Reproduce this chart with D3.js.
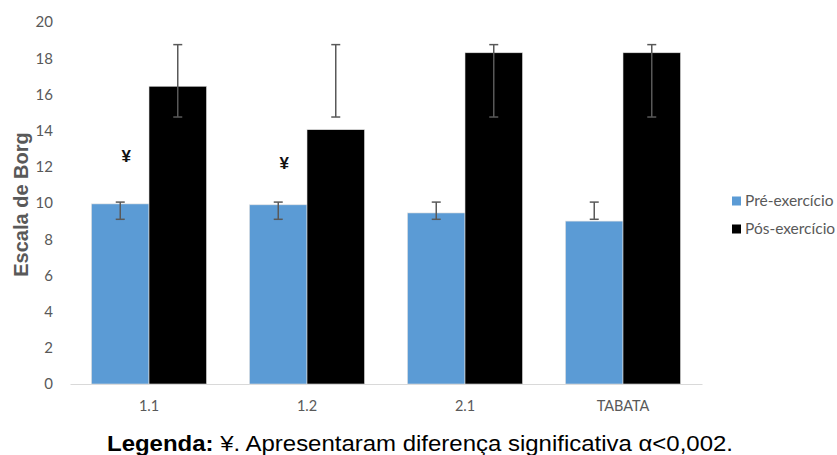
<!DOCTYPE html>
<html><head><meta charset="utf-8">
<script src="https://cdn.jsdelivr.net/npm/d3@7"></script>
<style>body{margin:0;background:#fff}svg{display:block}</style>
</head><body>
<svg id="c" width="837" height="455"></svg>
<script>
const categories = ["1.1", "1.2", "2.1", "TABATA"];
const seriesNames = ["Pré-exercício", "Pós-exercício"];
const preValues = [9.95, 9.9, 9.45, 9.0];
const postValues = [16.45, 14.05, 18.3, 18.3];
const preErrLow = [9.1, 9.1, 9.1, 9.1];
const preErrHigh = [10.05, 10.05, 10.05, 10.05];
const postErrLow = [14.75, 14.75, 14.75, 14.75];
const postErrHigh = [18.75, 18.75, 18.75, 18.75];
const yTicks = [0, 2, 4, 6, 8, 10, 12, 14, 16, 18, 20];
const markCategories = ["1.1", "1.2"];
const markValues = [12.6, 12.2];
const colors = ["#5B9BD5", "#000000"];

const svg = d3.select("#c");
const plot = {left: 70, right: 702, top: 22, bottom: 384};

const x = d3.scaleBand().domain(categories).range([plot.left, plot.right]).paddingInner(0.272).paddingOuter(0.136);
const xs = d3.scaleBand().domain(seriesNames).range([0, x.bandwidth()]);
const y = d3.scaleLinear().domain([0, 20]).range([plot.bottom, plot.top]);

const fontCal = "Lato, 'Open Sans', sans-serif";
const fontArial = "'Liberation Sans', Arial, sans-serif";
const grey = "#595959";

// Y axis labels
const yAxis = d3.axisLeft(y).tickValues(yTicks).tickSize(0).tickPadding(0);
const gy = svg.append("g").attr("transform", `translate(${plot.left - 17},0)`).call(yAxis);
gy.select(".domain").remove();
gy.selectAll("text").attr("fill", grey).style("font-family", fontCal).style("font-size", "15px");

// X axis
const xAxis = d3.axisBottom(x).tickSize(0).tickPadding(17);
const gx = svg.append("g").attr("transform", `translate(0,${plot.bottom})`).call(xAxis);
gx.select(".domain").attr("stroke", "#d9d9d9").attr("stroke-width", 1);
gx.selectAll("text").attr("fill", grey).style("font-family", fontCal).style("font-size", "14.5px");

// Bars
const rows = categories.map((c, i) => ({c, vals: [
  {s: seriesNames[0], v: preValues[i], lo: preErrLow[i], hi: preErrHigh[i], col: colors[0]},
  {s: seriesNames[1], v: postValues[i], lo: postErrLow[i], hi: postErrHigh[i], col: colors[1]}
]}));

const g = svg.append("g").selectAll("g").data(rows).join("g")
  .attr("transform", d => `translate(${x(d.c)},0)`);
g.selectAll("rect").data(d => d.vals).join("rect")
  .attr("x", d => xs(d.s)).attr("width", xs.bandwidth())
  .attr("y", d => y(d.v)).attr("height", d => y(0) - y(d.v))
  .attr("fill", d => d.col).attr("stroke", "#e0e0e0").attr("stroke-width", 0.6);

// Error bars
const eb = g.selectAll("g.err").data(d => d.vals).join("g").attr("class", "err")
  .attr("transform", d => `translate(${xs(d.s) + xs.bandwidth() / 2},0)`);
eb.append("line").attr("y1", d => y(d.lo)).attr("y2", d => y(d.hi)).attr("stroke", grey).attr("stroke-width", 1.5);
eb.append("line").attr("x1", -4.5).attr("x2", 4.5).attr("y1", d => y(d.lo)).attr("y2", d => y(d.lo)).attr("stroke", grey).attr("stroke-width", 1.5);
eb.append("line").attr("x1", -4.5).attr("x2", 4.5).attr("y1", d => y(d.hi)).attr("y2", d => y(d.hi)).attr("stroke", grey).attr("stroke-width", 1.5);

// ¥ marks
svg.append("g").selectAll("text").data(markCategories.map((c, i) => ({c, v: markValues[i]}))).join("text")
  .attr("x", d => x(d.c) + xs(seriesNames[0]) + xs.bandwidth() / 2 + 6)
  .attr("y", d => y(d.v)).attr("dy", "0.36em").attr("text-anchor", "middle")
  .attr("fill", "#111").style("font-family", fontArial).style("font-size", "17px").style("font-weight", "bold")
  .text("¥");

// Y title
svg.append("text").attr("transform", `translate(28,${(plot.top + plot.bottom) / 2 + 1.5}) rotate(-90)`)
  .attr("text-anchor", "middle").attr("fill", grey)
  .style("font-family", fontArial).style("font-size", "20px").style("font-weight", "bold")
  .text("Escala de Borg");

// Legend
const lg = svg.append("g").selectAll("g").data(seriesNames).join("g")
  .attr("transform", (d, i) => `translate(732,${201 + i * 28})`);
lg.append("rect").attr("x", 0).attr("y", -4.5).attr("width", 9).attr("height", 9).attr("fill", (d, i) => colors[i]);
lg.append("text").attr("x", 13).attr("dy", "0.35em").attr("fill", grey)
  .style("font-family", fontCal).style("font-size", "15.5px").text(d => d);

// Caption
const cap = svg.append("text").attr("x", 107).attr("y", 451)
  .attr("textLength", 626).attr("lengthAdjust", "spacingAndGlyphs")
  .attr("fill", "#000").style("font-family", fontArial).style("font-size", "22px");
cap.append("tspan").style("font-weight", "bold").text("Legenda:");
cap.append("tspan").text(" ¥. Apresentaram diferença significativa α<0,002.");
</script>
</body></html>
